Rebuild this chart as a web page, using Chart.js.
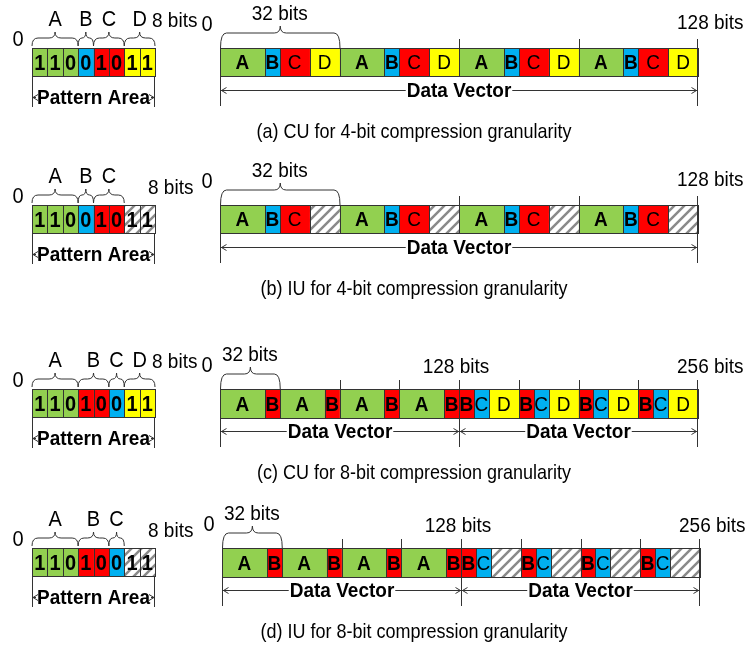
<!DOCTYPE html>
<html>
<head>
<meta charset="utf-8">
<script src="https://cdn.jsdelivr.net/npm/chart.js@4.4.1/dist/chart.umd.min.js"></script>
<style>
  body { margin: 0; background: #fff; }
  #fig { position: relative; width: 747px; height: 647px; }
  #fig canvas { position: absolute; left: 0; top: 0; }
</style>
</head>
<body>
<div id="fig"></div>
<script>
// ---- data ----
const captions = [
  '(a) CU for 4-bit compression granularity',
  '(b) IU for 4-bit compression granularity',
  '(c) CU for 8-bit compression granularity',
  '(d) IU for 8-bit compression granularity'
];

// 8-bit pattern area (digits) and how they split into fields ('' = unused)
const patternBits4 = ['1', '1', '0', '0', '1', '0', '1', '1'];
const patternBits8 = ['1', '1', '0', '1', '0', '0', '1', '1'];
const fieldNamesA = ['A', 'B', 'C', 'D'];
const fieldNamesB = ['A', 'B', 'C', ''];
const fieldNamesC = ['A', 'B', 'C', 'D'];
const fieldNamesD = ['A', 'B', 'C', ''];
const fieldBits4 = [3, 1, 2, 2];
const fieldBits8 = [3, 2, 1, 2];

// data vector segments (letter, width in bits)
const vecLabelsA = ['A', 'B', 'C', 'D', 'A', 'B', 'C', 'D', 'A', 'B', 'C', 'D', 'A', 'B', 'C', 'D'];
const vecLabelsB = ['A', 'B', 'C', '', 'A', 'B', 'C', '', 'A', 'B', 'C', '', 'A', 'B', 'C', ''];
const vecBits4 = [12, 4, 8, 8, 12, 4, 8, 8, 12, 4, 8, 8, 12, 4, 8, 8];
const vecLabelsC = ['A', 'B', 'A', 'B', 'A', 'B', 'A', 'B', 'B', 'C', 'D', 'B', 'C', 'D', 'B', 'C', 'D', 'B', 'C', 'D'];
const vecLabelsD = ['A', 'B', 'A', 'B', 'A', 'B', 'A', 'B', 'B', 'C', '', 'B', 'C', '', 'B', 'C', '', 'B', 'C', ''];
const vecBits8 = [24, 8, 24, 8, 24, 8, 24, 8, 8, 8, 16, 8, 8, 16, 8, 8, 16, 8, 8, 16];

// tick labels along the data vector
const vecTicks4 = [0, 128];
const vecTickLabels4 = ['0', '128 bits'];
const vecTicks8 = [0, 128, 256];
const vecTickLabels8 = ['0', '128 bits', '256 bits'];
const patternTickLabels = ['0', '8 bits'];
const wordBits = 32;
const wordLabel = '32 bits';

// ---- styling ----
const W = 747, H = 647;
const FONT = '"Liberation Sans", Arial, sans-serif';
const INK = '#333';
const STRETCH = 1.1; // glyphs in the figure are a bit taller than plain Arial
const GREEN = '#92d050', BLUE = '#00b0f0', RED = '#ff0000', YELLOW = '#ffff00';
const colors4 = { A: GREEN, B: BLUE, C: RED, D: YELLOW };
const colors8 = { A: GREEN, B: RED, C: BLUE, D: YELLOW };
const boldLetters = ['A', 'B'];
const fig = document.getElementById('fig');

function makeHatch() {
  const s = 10;
  const c = document.createElement('canvas');
  c.width = s; c.height = s;
  const g = c.getContext('2d');
  g.fillStyle = '#fff';
  g.fillRect(0, 0, s, s);
  g.strokeStyle = '#8a8a8a';
  g.lineWidth = 2.5;
  g.beginPath();
  g.moveTo(-2, s + 2); g.lineTo(s + 2, -2);
  g.moveTo(-2, 2); g.lineTo(2, -2);
  g.moveTo(s - 2, s + 2); g.lineTo(s + 2, s - 2);
  g.stroke();
  return g.createPattern(c, 'repeat');
}
const HATCH = makeHatch();

function colorFor(map, name) {
  return name ? map[name] : HATCH;
}

function text(ctx, str, x, y, size, weight, align) {
  ctx.save();
  ctx.font = (weight || 'normal') + ' ' + size + 'px ' + FONT;
  ctx.textAlign = align || 'center';
  ctx.textBaseline = 'middle';
  ctx.fillStyle = '#000';
  ctx.translate(x, y);
  ctx.scale(1, STRETCH);
  ctx.fillText(str, 0, 0);
  ctx.restore();
}

function vline(ctx, x, y1, y2) {
  const px = Math.round(x) + 0.5;
  ctx.beginPath();
  ctx.moveTo(px, y1);
  ctx.lineTo(px, y2);
  ctx.stroke();
}

function brace(ctx, x1, x2, yb, ym, yt) {
  const xc = (x1 + x2) / 2;
  const r = Math.min(6, (x2 - x1) / 4);
  ctx.beginPath();
  ctx.moveTo(x1, yb);
  ctx.quadraticCurveTo(x1, ym, x1 + r, ym);
  ctx.lineTo(xc - r, ym);
  ctx.quadraticCurveTo(xc, ym, xc, yt);
  ctx.quadraticCurveTo(xc, ym, xc + r, ym);
  ctx.lineTo(x2 - r, ym);
  ctx.quadraticCurveTo(x2, ym, x2, yb);
  ctx.stroke();
}

function arrowLabel(ctx, str, x1, x2, y) {
  ctx.font = 'bold 19px ' + FONT;
  const w = ctx.measureText(str).width;
  const xc = (x1 + x2) / 2;
  const py = Math.round(y) + 0.5;
  ctx.beginPath();
  ctx.moveTo(x1, py); ctx.lineTo(xc - w / 2 - 1, py);
  ctx.moveTo(xc + w / 2 + 1, py); ctx.lineTo(x2, py);
  ctx.moveTo(x1 + 6, py - 3); ctx.lineTo(x1 + 1, py); ctx.lineTo(x1 + 6, py + 3);
  ctx.moveTo(x2 - 6, py - 3); ctx.lineTo(x2 - 1, py); ctx.lineTo(x2 - 6, py + 3);
  ctx.stroke();
  text(ctx, str, xc, y + 1, 19, 'bold');
}

// one strip of cells = one horizontal stacked bar chart on its own layer
function strip(rect, bits, cellText, cellColors, cellFont, decorate) {
  const cv = document.createElement('canvas');
  cv.width = W; cv.height = H;
  fig.appendChild(cv);
  const total = bits.reduce((a, b) => a + b, 0);
  const datasets = bits.map((b, i) => ({
    label: cellText[i],
    data: [b],
    backgroundColor: cellColors[i],
    borderWidth: 0,
    barPercentage: 1,
    categoryPercentage: 1
  }));
  new Chart(cv, {
    type: 'bar',
    data: { labels: [''], datasets },
    options: {
      indexAxis: 'y',
      responsive: false,
      animation: false,
      events: [],
      layout: { padding: { left: rect.x1, right: W - rect.x2, top: rect.y1, bottom: H - rect.y2 } },
      scales: {
        x: { type: 'linear', min: 0, max: total, stacked: true, display: false },
        y: { stacked: true, display: false }
      },
      plugins: { legend: { display: false }, tooltip: { enabled: false } }
    },
    plugins: [{
      id: 'cells',
      afterDatasetsDraw(chart) {
        const ctx = chart.ctx;
        ctx.save();
        ctx.strokeStyle = INK;
        ctx.lineWidth = 1;
        chart.data.datasets.forEach((ds, i) => {
          const el = chart.getDatasetMeta(i).data[0];
          const left = Math.min(el.base, el.x), right = Math.max(el.base, el.x);
          const top = el.y - el.height / 2;
          ctx.strokeRect(Math.round(left) + 0.5, Math.round(top) + 0.5,
                         Math.round(right) - Math.round(left), Math.round(el.height) - 1);
          if (ds.label) {
            const f = cellFont(ds.label);
            text(ctx, ds.label, (left + right) / 2, el.y + 1, f.size, f.weight);
          }
        });
        ctx.restore();
        ctx.save();
        ctx.strokeStyle = INK;
        ctx.lineWidth = 1;
        decorate(chart);
        ctx.restore();
      }
    }]
  });
}

function patternPanel(top, digits, names, widths, colorMap) {
  const cellColors = [];
  names.forEach((n, i) => { for (let k = 0; k < widths[i]; k++) cellColors.push(colorFor(colorMap, n)); });
  const ones = digits.map(() => 1);
  strip({ x1: 32, x2: 155, y1: top, y2: top + 29 }, ones, digits, cellColors, () => ({ size: 20, weight: 'bold' }), chart => {
    const ctx = chart.ctx, xs = chart.scales.x, a = chart.chartArea;
    const T = a.top, B = a.bottom;
    let pos = 0;
    names.forEach((n, i) => {
      const s = pos, e = pos + widths[i];
      pos = e;
      if (!n) return;
      const x1 = xs.getPixelForValue(s), x2 = xs.getPixelForValue(e);
      brace(ctx, x1, x2, T - 2, T - 10, T - 16);
      text(ctx, n, (x1 + x2) / 2, T - 28, 20);
    });
    const full = names.every(n => n);
    text(ctx, patternTickLabels[0], a.left - 14, T - 8, 20);
    text(ctx, patternTickLabels[1], a.right + (full ? -3 : -7), T - (full ? 27 : 17), 19, 'normal', 'left');
    vline(ctx, a.left, B, T + 59);
    vline(ctx, a.right - 1, B, T + 59);
    arrowLabel(ctx, 'Pattern Area', a.left, a.right, T + 49);
  });
}

function vectorPanel(rect, labels, widths, colorMap, ticks, tickLabels, caption) {
  const cellColors = labels.map(n => colorFor(colorMap, n));
  const cellFont = n => ({ size: 19, weight: boldLetters.includes(n) ? 'bold' : 'normal' });
  strip(rect, widths, labels, cellColors, cellFont, chart => {
    const ctx = chart.ctx, xs = chart.scales.x, a = chart.chartArea;
    const T = a.top;
    const px = v => Math.min(xs.getPixelForValue(v), a.right - 1);
    brace(ctx, px(0) + 0.5, px(wordBits) + 0.5, T, T - 15, T - 22);
    text(ctx, wordLabel, (px(0) + px(wordBits)) / 2, T - 34, 19);
    for (let v = 2 * wordBits; v < xs.max; v += wordBits) {
      if (!ticks.includes(v)) vline(ctx, px(v), T - 9, T);
    }
    ticks.forEach((v, i) => {
      if (i === 0) {
        vline(ctx, px(v), T, T + 58);
        text(ctx, tickLabels[i], px(v) - 13, T - 23, 20);
      } else {
        vline(ctx, px(v), T - 9, T + 58);
        if (i === ticks.length - 1) {
          text(ctx, tickLabels[i], px(v) - 20, T - (ticks.length === 2 ? 25 : 22), 19, 'normal', 'left');
        } else {
          text(ctx, tickLabels[i], px(v) - 3, T - 22, 19);
        }
      }
    });
    for (let i = 1; i < ticks.length; i++) {
      arrowLabel(ctx, 'Data Vector', px(ticks[i - 1]) + 0.5, px(ticks[i]) + 0.5, T + 42);
    }
    text(ctx, caption, 414, T + 85, 18);
  });
}

const tops = [48, 205, 389, 548];

patternPanel(tops[0], patternBits4, fieldNamesA, fieldBits4, colors4);
vectorPanel({ x1: 220, x2: 698, y1: tops[0], y2: tops[0] + 29 }, vecLabelsA, vecBits4, colors4, vecTicks4, vecTickLabels4, captions[0]);

patternPanel(tops[1], patternBits4, fieldNamesB, fieldBits4, colors4);
vectorPanel({ x1: 220, x2: 698, y1: tops[1], y2: tops[1] + 29 }, vecLabelsB, vecBits4, colors4, vecTicks4, vecTickLabels4, captions[1]);

patternPanel(tops[2], patternBits8, fieldNamesC, fieldBits8, colors8);
vectorPanel({ x1: 220, x2: 698, y1: tops[2], y2: tops[2] + 30 }, vecLabelsC, vecBits8, colors8, vecTicks8, vecTickLabels8, captions[2]);

patternPanel(tops[3], patternBits8, fieldNamesD, fieldBits8, colors8);
vectorPanel({ x1: 222, x2: 700, y1: tops[3], y2: tops[3] + 30 }, vecLabelsD, vecBits8, colors8, vecTicks8, vecTickLabels8, captions[3]);
</script>
</body>
</html>
